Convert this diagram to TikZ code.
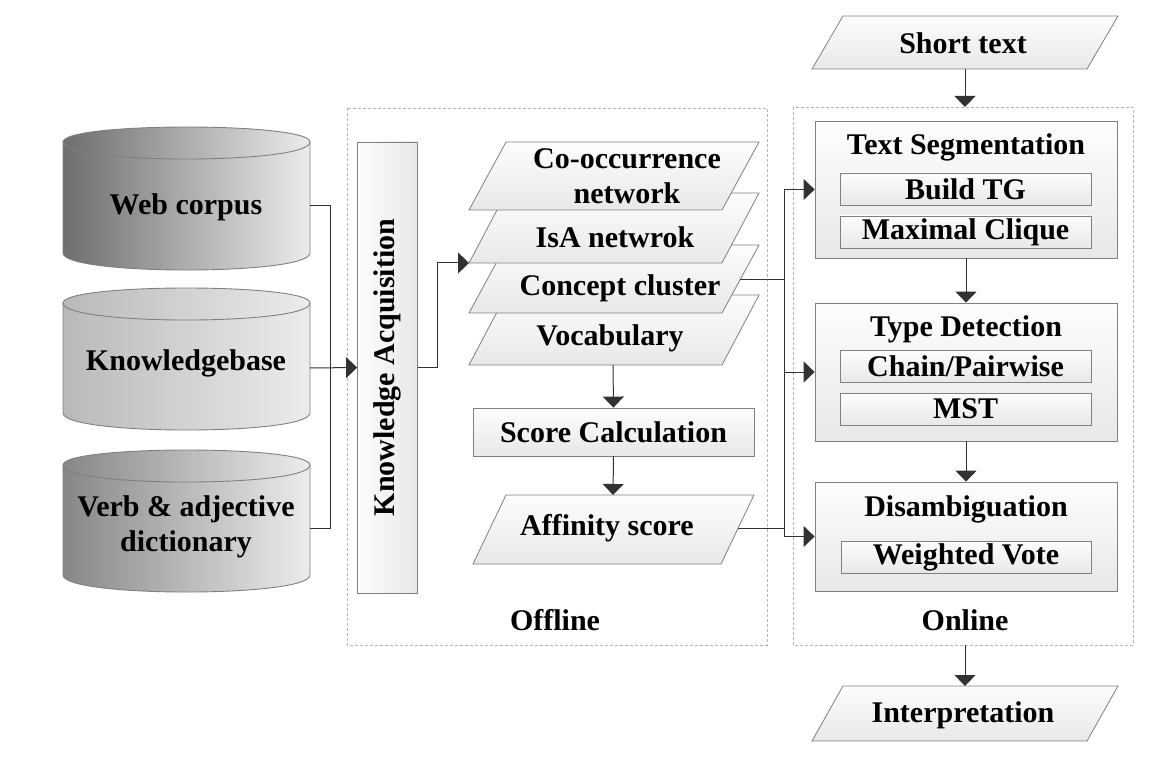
\documentclass[tikz,border=0pt]{standalone}
\usepackage{fontspec}
\setmainfont{Liberation Serif}
\usetikzlibrary{arrows.meta}
\definecolor{olc}{RGB}{128,128,128}
\definecolor{cnc}{RGB}{50,50,50}
\definecolor{frc}{RGB}{180,180,180}
\definecolor{cylA}{RGB}{110,110,110}
\definecolor{cylB}{RGB}{185,185,185}
\definecolor{cylC}{RGB}{135,135,135}
\definecolor{cylR}{RGB}{236,236,236}
\definecolor{boxT}{RGB}{253,253,253}
\definecolor{boxB}{RGB}{232,232,232}
\newcommand\mycyl[5]{%
  \path[draw=olc, line width=0.9pt, left color=#5, right color=cylR]
    (#1,#3) .. controls (#1,#3-20) and (#2,#3-20) .. (#2,#3) -- (#2,#4)
    .. controls (#2,#4+22.7) and (#1,#4+22.7) .. (#1,#4) -- cycle;
  \draw[olc, line width=0.9pt] (#1,#3) .. controls (#1,#3+22.7) and (#2,#3+22.7) .. (#2,#3);
}
\newcommand\mypara[5]{% xbl, xbr, ytop, ybot, slant
  \path[draw=olc, line width=0.8pt, top color=boxT, bottom color=boxB]
    (#1,#4) -- (#2,#4) -- (#2+#5,#3) -- (#1+#5,#3) -- cycle;
}
\begin{document}
\begin{tikzpicture}[x=1pt,y=-1pt,
  every node/.style={font=\fontsize{30}{35}\selectfont\bfseries, align=center, inner sep=0pt, text=black},
  box/.style={draw=olc, line width=0.8pt, top color=boxT, bottom color=boxB},
  kabox/.style={draw=olc, line width=0.8pt, left color=boxT, right color=boxB},
  frame/.style={draw=frc, line width=0.7pt, dash pattern=on 3pt off 2pt},
  conn/.style={draw=cnc, line width=1pt},
  arr/.style={conn, -{Triangle[length=11pt,width=21pt]}}]
\useasboundingbox (0,0) rectangle (1152,778);

% frames
\draw[frame] (347,108) rectangle (767,645);
\draw[frame] (793,107) rectangle (1133,645);
\node (offline) at (555,620) {Offline};
\node (online) at (965,620) {Online};

% cylinders
\mycyl{63}{310}{142}{253}{cylA}
\mycyl{63}{310}{303}{413}{cylB}
\mycyl{63}{310}{465}{575}{cylC}
\node (web) at (186,207) {Web corpus};
\node (kb) at (186,363) {Knowledgebase};
\node (verb) at (186,527) {Verb \& adjective\\dictionary};
\coordinate (c1r) at (310,206);
\coordinate (c2r) at (310,368);
\coordinate (c3r) at (310,528);

% knowledge acquisition
\node[kabox, minimum width=60, minimum height=451] (ka) at (387.5,367.5) {};
\node[rotate=90] (katext) at (ka.center) {Knowledge Acquisition};

\draw[conn] (c1r) -- (330,206) -- (330,528) -- (c3r);
\draw[arr] (c2r) -- (ka.west);

% stacked data
\mypara{469}{722}{295}{365}{37}
\mypara{469}{722}{245}{313}{37}
\mypara{469}{722}{193}{263}{37}
\mypara{469}{722}{142}{210}{37}
\node (cooc) at (627,176) {Co-occurrence\\network};
\node (isa) at (615,237) {IsA netwrok};
\node (cc) at (620,288) {Concept cluster};
\node (voc) at (610,338) {Vocabulary};
\coordinate (isain) at (469,263);
\coordinate (ccr) at (740,280);
\coordinate (vb) at (613,365);

\draw[arr] (ka.east) -- (437,367.5) |- (isain);

% score
\node[box, minimum width=281, minimum height=48] (sc) at (613.5,432) {};
\node (sctext) at (sc.center) {Score Calculation};
\draw[arr] (vb) -- (sc.north);

\mypara{473}{721}{495}{564}{33}
\node (aff) at (607,528) {Affinity score};
\coordinate (aft) at (613,495);
\coordinate (afr) at (738,528);
\draw[arr] (sc.south) -- (aft);

% online
\mypara{812}{1087}{16}{69}{31}
\node (short) at (963,43) {Short text};
\coordinate (stb) at (965,69);
\coordinate (ftop) at (965,107);
\draw[arr] (stb) -- (ftop);

\node[box, minimum width=302, minimum height=137] (ts) at (966,189.5) {};
\node (tstitle) at (966,147) {Text Segmentation};
\node[box, minimum width=251, minimum height=32] (btg) at (965.5,189) {};
\node (btgt) at (btg.center) {Build TG};
\node[box, minimum width=251, minimum height=32] (mc) at (965.5,232) {};
\node (mct) at (mc.center) {Maximal Clique};

\node[box, minimum width=302, minimum height=138] (td) at (966,372) {};
\node (tdtitle) at (966,329) {Type Detection};
\node[box, minimum width=251, minimum height=32] (cp) at (965.5,366) {};
\node (cpt) at (cp.center) {Chain/Pairwise};
\node[box, minimum width=251, minimum height=32] (mst) at (965.5,409) {};
\node (mstt) at (mst.center) {MST};

\node[box, minimum width=302, minimum height=109] (dis) at (966,536.5) {};
\node (distitle) at (966,509) {Disambiguation};
\node[box, minimum width=250, minimum height=32] (wv) at (966,557) {};
\node (wvt) at (wv.center) {Weighted Vote};

\draw[arr] (ts.south) -- (td.north);
\draw[arr] (td.south) -- (dis.north);

\coordinate (fbot) at (965,645);
\mypara{812}{1087}{686}{741}{31}
\node (interp) at (963,715) {Interpretation};
\coordinate (intt) at (965,686);
\draw[arr] (fbot) -- (intt);

% bus
\coordinate (bt) at (784,189.5);
\coordinate (bb) at (784,536.5);
\draw[conn] (bt) -- (bb);
\draw[arr] (bt) -- (ts.west);
\draw[arr] (bt |- td.west) -- (td.west);
\draw[arr] (bb) -- (dis.west);
\draw[conn] (ccr) -- (ccr -| bt);
\draw[conn] (afr) -- (afr -| bt);
\end{tikzpicture}
\end{document}
